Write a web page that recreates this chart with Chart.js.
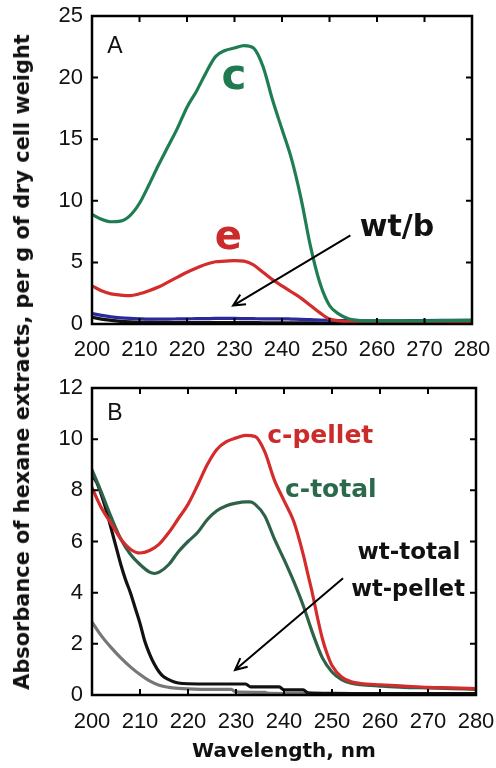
<!DOCTYPE html>
<html>
<head>
<meta charset="utf-8">
<script src="https://cdn.jsdelivr.net/npm/chart.js@4/dist/chart.umd.min.js"></script>
<style>
  html, body { margin:0; padding:0; background:#fff; }
  #wrap { position:relative; width:496px; height:768px; overflow:hidden; background:#fff; }
  #cA { position:absolute; left:0; top:0; }
  #cB { position:absolute; left:0; top:360px; }
  #ytitle { position:absolute; left:22px; top:362px; transform:translate(-50%,-50%) rotate(-90deg);
    white-space:nowrap; font-family:"DejaVu Sans", sans-serif; font-weight:bold; font-size:19.6px; color:#111; }
</style>
</head>
<body>
<div id="wrap">
  <canvas id="cA" width="496" height="360"></canvas>
  <canvas id="cB" width="496" height="408"></canvas>
  <div id="ytitle">Absorbance of hexane extracts, per g of dry cell weight</div>
</div>
<script>
// ---------- DATA ----------
// Panel A
const waveA = [200,202,204,206,208,210,212,214,216,218,220,222,224,226,228,230,232,234,236,238,240,242,244,246,248,250,252,254,256,258,260,265,270,275,280];
const cA    = [8.9,8.5,8.3,8.35,8.8,9.8,11.3,12.9,14.4,15.9,17.6,18.9,20.4,21.7,22.2,22.4,22.6,22.4,20.9,18.2,15.8,13.4,10.2,6.3,3.3,1.5,0.8,0.42,0.3,0.25,0.25,0.25,0.25,0.28,0.3];
const eA    = [3.1,2.7,2.45,2.35,2.3,2.45,2.7,3.0,3.4,3.8,4.2,4.55,4.85,5.05,5.1,5.15,5.1,4.8,4.2,3.6,3.1,2.6,2.1,1.5,0.9,0.4,0.25,0.2,0.2,0.2,0.2,0.2,0.2,0.2,0.2];
const bA    = [0.85,0.7,0.58,0.5,0.45,0.42,0.4,0.4,0.4,0.41,0.42,0.43,0.44,0.45,0.45,0.45,0.44,0.43,0.42,0.42,0.42,0.4,0.38,0.35,0.32,0.3,0.28,0.27,0.25,0.25,0.25,0.26,0.28,0.29,0.3];
const wtA   = [0.55,0.4,0.3,0.22,0.17,0.14,0.13,0.12,0.12,0.12,0.12,0.12,0.12,0.12,0.12,0.12,0.11,0.11,0.1,0.1,0.1,0.1,0.09,0.09,0.08,0.08,0.07,0.06,0.06,0.05,0.05,0.05,0.05,0.05,0.05];

// Panel B
const pelletNm  = [200,202,204,206,208,210,212,214,216,218,220,222,224,226,228,230,232,234,236,238,240,242,244,245,246,247,248,249,250,252,254,256,260,265,270,275,280];
const pelletVal = [8.1,7.3,6.7,6.1,5.7,5.55,5.65,5.9,6.35,6.9,7.45,8.2,9.0,9.6,9.9,10.05,10.15,10.1,9.5,8.4,7.6,6.8,5.5,4.7,3.9,3.0,2.2,1.6,1.15,0.7,0.52,0.45,0.4,0.35,0.3,0.28,0.25];
const totalNm   = [200,202,204,206,208,210,212,213,214,216,218,220,222,224,226,228,230,232,233,234,236,238,240,242,244,246,248,250,252,254,256,260,265,270,275,280];
const totalVal  = [8.8,7.9,6.95,6.1,5.5,5.1,4.8,4.75,4.8,5.1,5.6,6.0,6.35,6.85,7.2,7.4,7.5,7.55,7.55,7.45,7.0,6.1,5.3,4.45,3.5,2.4,1.45,0.9,0.6,0.46,0.4,0.35,0.3,0.28,0.25,0.22];
const wtTotNm   = [200,201,202,203,204,205,206,207,208,209,210,211,212,213,214,215,216,217,218,220,225,232,233,239,240,244,245,250,260,280];
const wtTotVal  = [8.6,8.3,7.8,7.2,6.5,5.8,5.1,4.5,4.0,3.4,2.8,2.1,1.6,1.2,0.9,0.7,0.6,0.52,0.47,0.44,0.43,0.43,0.32,0.32,0.2,0.2,0.08,0.06,0.05,0.05];
const wtPelNm   = [200,202,204,206,208,210,212,214,216,218,220,225,229,230,236,237,245,260,280];
const wtPelVal  = [2.85,2.3,1.85,1.45,1.1,0.8,0.55,0.38,0.3,0.26,0.24,0.22,0.22,0.12,0.1,0.06,0.05,0.05,0.05];

// Axis ticks
const xTicks  = [200,210,220,230,240,250,260,270,280];
const yTicksA = [0,5,10,15,20,25];
const yTicksB = [0,2,4,6,8,10,12];

// Labels
const labelsA = [
  {text:'A',    x:203.2, y:22.5, color:'#111', font:'23px "Liberation Sans"', align:'left'},
  {text:'c',    x:229.9, y:20.0, color:'#1f7a50', font:'bold 42px "DejaVu Sans"', align:'center'},
  {text:'e',    x:228.7, y:6.9,  color:'#cc2b2b', font:'bold 40px "DejaVu Sans"', align:'center'},
  {text:'wt/b', x:264.2, y:7.8,  color:'#111', font:'bold 30px "DejaVu Sans"', align:'center'}
];
const arrowsA = [{from:[254.4,7.2], to:[229.7,1.5]}];
const labelsB = [
  {text:'B',         x:203.2, y:11.0, color:'#111', font:'23px "Liberation Sans"', align:'left'},
  {text:'c-pellet',  x:236.5, y:10.1, color:'#cc2b2b', font:'bold 25px "DejaVu Sans"', align:'left'},
  {text:'c-total',   x:240.2, y:8.0,  color:'#2a6a4a', font:'bold 25px "DejaVu Sans"', align:'left'},
  {text:'wt-total',  x:255.3, y:5.55, color:'#111', font:'bold 23px "DejaVu Sans"', align:'left'},
  {text:'wt-pellet', x:254.0, y:4.1,  color:'#111', font:'bold 22.5px "DejaVu Sans"', align:'left'}
];
const arrowsB = [{from:[252.3,4.56], to:[229.8,0.98]}];

// ---------- helpers ----------
const zip = (xs, ys) => xs.map((x,i)=>({x:x, y:ys[i]}));
const tickFont = {family:'"Liberation Sans", Arial, sans-serif', size:22};

(function(){
  const el = document.getElementById('ytitle');
  const c = document.createElement('canvas').getContext('2d');
  c.font = 'bold 20px "DejaVu Sans"';
  const w = c.measureText(el.textContent).width;
  el.style.fontSize = (20 * 656 / w).toFixed(2) + 'px';
})();

const framePlugin = {
  id:'frame',
  afterDatasetsDraw(chart, args, opts) {
    const {ctx, chartArea:a, scales:{x, y}} = chart;
    ctx.save();
    ctx.strokeStyle = '#000';
    ctx.lineWidth = 2;
    const tl = 6;
    ctx.beginPath();
    opts.xt.forEach(v => {
      const p = x.getPixelForValue(v);
      if (p > a.left+1 && p < a.right-1) {
        ctx.moveTo(p, a.bottom); ctx.lineTo(p, a.bottom - tl);
        ctx.moveTo(p, a.top); ctx.lineTo(p, a.top + tl);
      }
    });
    opts.yt.forEach(v => {
      const p = y.getPixelForValue(v);
      if (p > a.top+1 && p < a.bottom-1) {
        ctx.moveTo(a.left, p); ctx.lineTo(a.left + tl, p);
        ctx.moveTo(a.right, p); ctx.lineTo(a.right - tl, p);
      }
    });
    ctx.stroke();
    ctx.lineWidth = 2.5;
    ctx.strokeRect(a.left, a.top, a.right - a.left, a.bottom - a.top);
    (opts.labels||[]).forEach(l => {
      ctx.font = l.font; ctx.fillStyle = l.color;
      ctx.textAlign = l.align; ctx.textBaseline = 'middle';
      ctx.fillText(l.text, x.getPixelForValue(l.x), y.getPixelForValue(l.y));
    });
    ctx.strokeStyle = '#000'; ctx.lineWidth = 2;
    (opts.arrows||[]).forEach(ar => {
      const x1 = x.getPixelForValue(ar.from[0]), y1 = y.getPixelForValue(ar.from[1]);
      const x2 = x.getPixelForValue(ar.to[0]),   y2 = y.getPixelForValue(ar.to[1]);
      const ang = Math.atan2(y2-y1, x2-x1), h = 13;
      ctx.beginPath();
      ctx.moveTo(x1,y1); ctx.lineTo(x2,y2);
      ctx.moveTo(x2 - h*Math.cos(ang-0.45), y2 - h*Math.sin(ang-0.45));
      ctx.lineTo(x2,y2);
      ctx.lineTo(x2 - h*Math.cos(ang+0.45), y2 - h*Math.sin(ang+0.45));
      ctx.stroke();
    });
    ctx.restore();
  }
};

function ds(data, color) {
  return {data:data, borderColor:color, borderWidth:3.2, pointRadius:0, fill:false,
          cubicInterpolationMode:'monotone', borderCapStyle:'round', borderJoinStyle:'round'};
}

function makeOpts(yMax, yStep, yTicks, xH, pad, labels, arrows, xTitle, xPad) {
  return {
    responsive:false, animation:false, events:[],
    layout:{padding:pad},
    plugins:{legend:{display:false}, tooltip:{enabled:false},
      frame:{xt:xTicks, yt:yTicks, labels:labels, arrows:arrows}},
    scales:{
      x:{type:'linear', min:200, max:280,
         grid:{display:false, drawTicks:false}, border:{display:false},
         ticks:{stepSize:10, color:'#111', font:tickFont, padding:xPad, maxRotation:0, autoSkip:false},
         title: xTitle ? {display:true, text:xTitle, color:'#111',
                  font:{family:'"DejaVu Sans", sans-serif', size:20, weight:'bold'}, padding:{top:0,bottom:4}} : {display:false},
         afterFit(s){ s.height = xH; s.paddingLeft = 0; s.paddingRight = 0; }},
      y:{type:'linear', min:0, max:yMax,
         grid:{display:false, drawTicks:false}, border:{display:false},
         ticks:{stepSize:yStep, color:'#111', font:tickFont, padding:9},
         afterFit(s){ s.width = 92; s.paddingTop = 0; s.paddingBottom = 0; }}
    }
  };
}

function fitArea(chart, target) {
  const pad = Object.assign({left:0,right:0,top:0,bottom:0}, chart.config.options.layout.padding);
  for (let i = 0; i < 4; i++) {
    const a = chart.chartArea;
    pad.left   += target.left - a.left;
    pad.top    += target.top - a.top;
    pad.right  += a.right - target.right;
    pad.bottom += a.bottom - target.bottom;
    chart.config.options.layout.padding = Object.assign({}, pad);
    chart.update('none');
  }
}

const chartA = new Chart(document.getElementById('cA'), {
  type:'line',
  data:{datasets:[
    ds(zip(waveA, cA), '#1f7d52'),
    ds(zip(waveA, eA), '#d42b2b'),
    ds(zip(waveA, bA), '#2a2a9a'),
    ds(zip(waveA, wtA), '#111111')
  ]},
  options: makeOpts(25, 5, yTicksA, 36, {left:0, right:24, top:16, bottom:0}, labelsA, arrowsA, null, 13),
  plugins:[framePlugin]
});
fitArea(chartA, {left:92, right:472, top:16, bottom:324});

const chartB = new Chart(document.getElementById('cB'), {
  type:'line',
  data:{datasets:[
    ds(zip(pelletNm, pelletVal), '#d42b2b'),
    ds(zip(totalNm, totalVal), '#2e6248'),
    ds(zip(wtTotNm, wtTotVal), '#111111'),
    ds(zip(wtPelNm, wtPelVal), '#777777')
  ]},
  options: makeOpts(12, 2, yTicksB, 73, {left:0, right:20, top:28, bottom:0}, labelsB, arrowsB, 'Wavelength, nm', 14),
  plugins:[framePlugin]
});
fitArea(chartB, {left:92, right:476, top:28, bottom:335});
</script>
</body>
</html>
